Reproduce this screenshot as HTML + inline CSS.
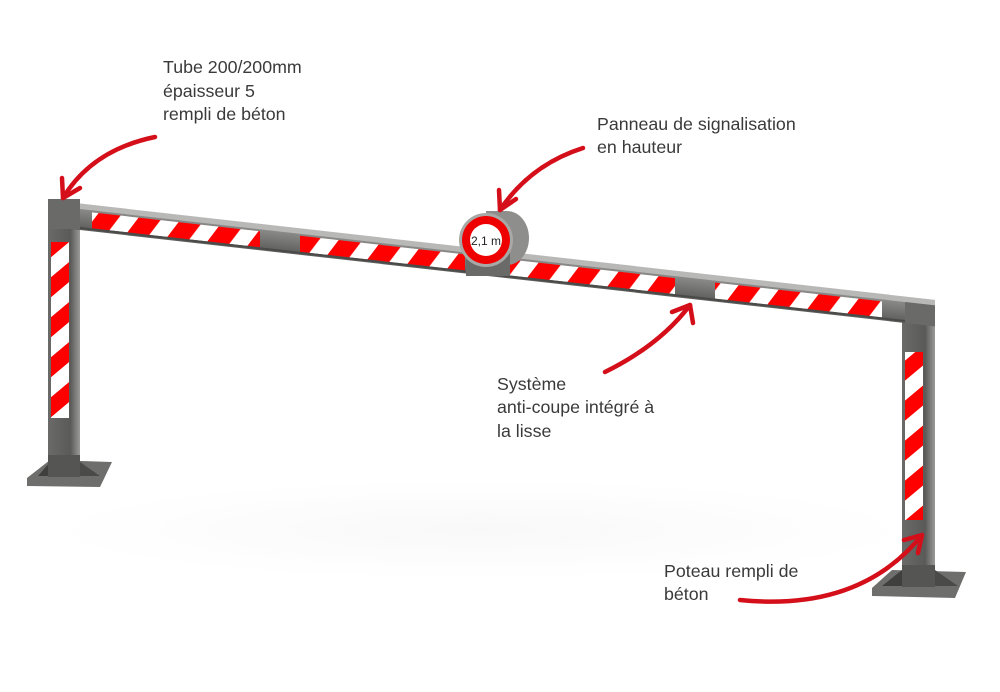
<!DOCTYPE html>
<html><head><meta charset="utf-8"><style>
html,body{margin:0;padding:0;background:#fff;}
svg{display:block}
text{font-family:"Liberation Sans",sans-serif;font-size:17.8px;fill:#3a3a3a;}
</style></head><body>
<svg width="1000" height="692" viewBox="0 0 1000 692" xmlns="http://www.w3.org/2000/svg">
<defs>
<pattern id="st" width="40" height="40" patternUnits="userSpaceOnUse" patternTransform="skewX(-35)">
<rect width="40" height="40" fill="#fff"/><rect width="22" height="40" fill="#f00"/>
</pattern>
<pattern id="sv" width="40" height="40" patternUnits="userSpaceOnUse" patternTransform="skewY(-40)">
<rect width="40" height="40" fill="#fff"/><rect width="40" height="20" fill="#f00"/>
</pattern>
<linearGradient id="steel" x1="0" y1="0" x2="0" y2="1"><stop offset="0" stop-color="#8a8a88"/><stop offset="1" stop-color="#5c5c5a"/></linearGradient>
<linearGradient id="post" x1="0" y1="0" x2="1" y2="0"><stop offset="0" stop-color="#6a6a68"/><stop offset="0.7" stop-color="#5a5a58"/><stop offset="1" stop-color="#9a9a98"/></linearGradient>
<radialGradient id="sh" cx="0.5" cy="0.5" r="0.5"><stop offset="0" stop-color="#f2f2f2"/><stop offset="1" stop-color="#fff"/></radialGradient>
</defs>

<ellipse cx="480" cy="530" rx="430" ry="50" fill="url(#sh)" opacity="0.5"/>

<!-- left post -->
<rect x="48" y="200" width="32" height="275" fill="url(#post)"/>
<rect x="51" y="242" width="18" height="176" fill="url(#sv)"/>
<polygon points="27,478 50,460 112,462 100,487 27,486" fill="#6e6e6c"/>
<polygon points="38,476 50,462 50,476" fill="#3f3f3e"/>
<polygon points="80,462 100,476 80,476" fill="#4a4a48"/>
<rect x="48" y="455" width="32" height="22" fill="#555553"/>

<!-- right post -->
<rect x="902" y="300" width="33" height="285" fill="url(#post)"/>
<rect x="905" y="352" width="18" height="168" fill="url(#sv)"/>
<polygon points="872,588 892,570 966,572 955,598 872,596" fill="#6e6e6c"/>
<polygon points="882,586 902,570 902,586" fill="#3f3f3e"/>
<polygon points="935,570 958,586 935,586" fill="#4a4a48"/>
<rect x="902" y="565" width="33" height="22" fill="#555553"/>

<!-- beam -->
<g transform="matrix(1,0.1127,0,1,0,0)">
<rect x="48" y="194.5" width="887" height="6" fill="#b8b8b6"/>
<rect x="48" y="200" width="887" height="21" fill="url(#steel)"/>
<rect x="905" y="200" width="30" height="21" fill="#6a6a68"/>
<rect x="92" y="202" width="168" height="16" fill="url(#st)"/>
<rect x="300" y="202" width="165" height="16" fill="url(#st)"/>
<rect x="510" y="202" width="165" height="16" fill="url(#st)"/>
<rect x="715" y="202" width="167" height="16" fill="url(#st)"/>
<rect x="48" y="218" width="857" height="2" fill="#4a4a48"/>
</g>
<rect x="48" y="199" width="32" height="30" fill="#6a6a68"/>

<!-- sign -->
<ellipse cx="507" cy="238" rx="22" ry="27" fill="#8e8e8c"/>
<rect x="486" y="211" width="21" height="54" fill="#8e8e8c"/>
<rect x="466" y="252" width="44" height="24" fill="#6a6a68"/>
<circle cx="486" cy="240" r="27" fill="#a8a8a6"/>
<circle cx="486" cy="240" r="24" fill="#e00"/>
<circle cx="486" cy="240" r="16" fill="#fff"/>
<text x="486" y="245" text-anchor="middle" style="font-size:12px;fill:#222">2,1 m</text>

<!-- arrows -->
<g fill="none" stroke="#d40f1a" stroke-width="4.5" stroke-linecap="round">
<path d="M155,137 Q92,150 63,198"/><path d="M63,198 L62,178 M63,198 L80,188"/>
<path d="M583,148 Q530,165 500,210"/><path d="M500,210 L499,190 M500,210 L516,199"/>
<path d="M605,372 Q660,345 690,305"/><path d="M690,305 L672,312 M690,305 L693,323"/>
<path d="M740,600 Q860,612 922,535"/><path d="M922,535 L904,540 M922,535 L918,553"/>
</g>

<text x="163" y="73">Tube 200/200mm</text>
<text x="163" y="97">épaisseur 5</text>
<text x="163" y="120">rempli de béton</text>
<text x="597" y="130">Panneau de signalisation</text>
<text x="597" y="153">en hauteur</text>
<text x="497" y="390">Système</text>
<text x="497" y="413">anti-coupe intégré à</text>
<text x="497" y="437">la lisse</text>
<text x="664" y="577">Poteau rempli de</text>
<text x="664" y="600">béton</text>
</svg>
</body></html>
